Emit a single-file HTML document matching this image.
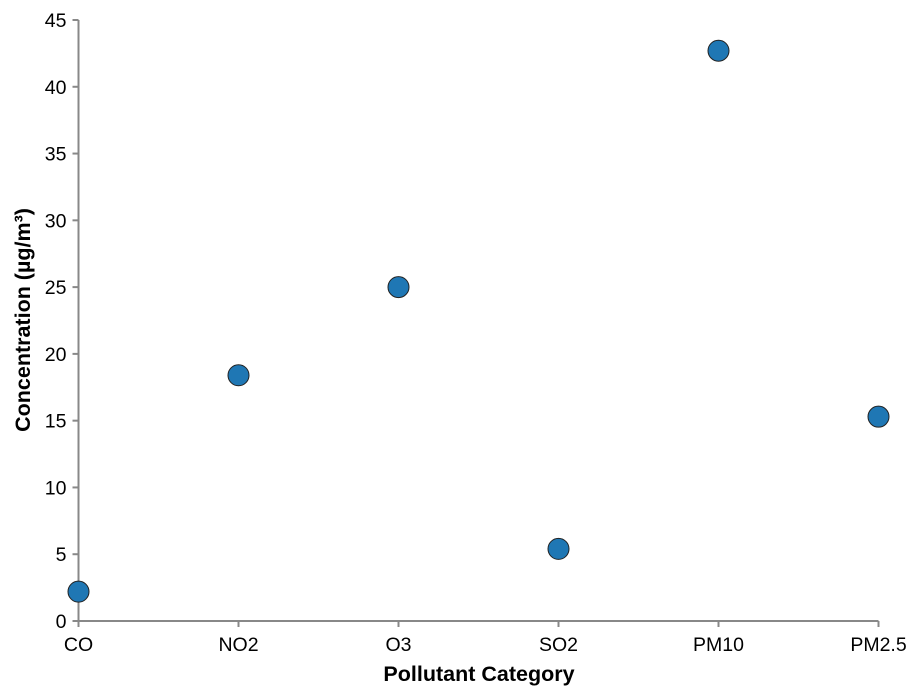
<!DOCTYPE html>
<html><head><meta charset="utf-8"><style>
body{margin:0;background:#fff;}
svg{display:block;font-family:"Liberation Sans",Arial,sans-serif;}
</style></head><body>
<svg id="chart" width="918" height="694"></svg>
<script>
const categories = ["CO","NO2","O3","SO2","PM10","PM2.5"];
const values = [2.2, 18.4, 25.0, 5.4, 42.7, 15.3];
const yTicks = [0,5,10,15,20,25,30,35,40,45];
const NS="http://www.w3.org/2000/svg";
const svg=document.getElementById('chart');
const x0=78.5, step=160, y0=621, yTop=20, yMax=45;
const xs=i=>x0+i*step;
const ys=v=>y0-(v/yMax)*(y0-yTop);
function mk(t,a,p){const e=document.createElementNS(NS,t);for(const k in a)e.setAttribute(k,a[k]);(p||svg).appendChild(e);return e;}
const yAxis=mk('g',{});


mk('line',{x1:x0,x2:x0,y1:ys(yMax),y2:y0,stroke:'#888','stroke-width':2},yAxis);
yTicks.forEach(v=>{
  const y=ys(v);
  mk('line',{x1:x0-6,x2:x0,y1:y,y2:y,stroke:'#888','stroke-width':2},yAxis);
  const t=mk('text',{x:x0-12,y:y+7,'text-anchor':'end','font-size':19.5,fill:'#000'},yAxis);
  t.textContent=v;
  
  
});
const xAxis=mk('g',{});


mk('line',{x1:x0,x2:xs(categories.length-1),y1:y0,y2:y0,stroke:'#888','stroke-width':2},xAxis);
categories.forEach((c,i)=>{
  const x=xs(i);
  mk('line',{x1:x,x2:x,y1:y0,y2:y0+6,stroke:'#888','stroke-width':2},xAxis);
  const t=mk('text',{x:x,y:y0+30,'text-anchor':'middle','font-size':19.5,fill:'#000'},xAxis);
  t.textContent=c;
  
  
});
const xt=mk('text',{x:479,y:681,'text-anchor':'middle','font-size':21.5,'font-weight':'bold',fill:'#000'});
xt.textContent='Pollutant Category';


const yt=mk('text',{x:0,y:0,'text-anchor':'middle','font-size':21.5,'font-weight':'bold',fill:'#000',transform:'translate(30,320) rotate(-90)'});
yt.textContent='Concentration (µg/m³)';


values.forEach((v,i)=>{
  const c=mk('circle',{cx:xs(i),cy:ys(v),r:10.5,fill:'#1f77b4',stroke:'#222','stroke-width':1});
  
  
});
</script>
</body></html>
